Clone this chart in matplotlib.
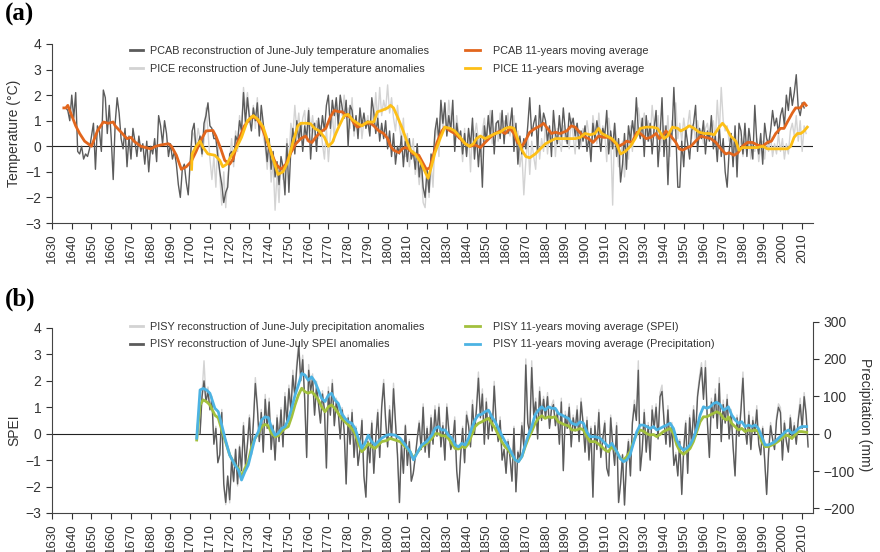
import matplotlib
matplotlib.use('Agg')
import matplotlib.pyplot as plt
import numpy as np
from matplotlib.lines import Line2D

plt.rcParams['font.family'] = ['Liberation Sans', 'DejaVu Sans']

# ---------------- panel (a): temperature ----------------
pcab_start = 1637
pcab = [1.5, 1.4, 1.0,
        2.0, 1.1, 2.1, -0.2, -0.3, 0.0, -0.5, -0.3, -0.4, -0.1,
        0.4, 0.9, -0.9, 0.8, 0.6, -0.2, 2.2, 1.9, 0.5, 1.6,
        0.3, -1.3, 0.9, 1.9, 1.3, 0.3, -0.1, 0.7, -0.8, 0.4,
        -0.5, 0.7, 0.2, -0.4, 0.4, -0.2, 0.1, -0.7, 0.2, -1.0,
        0.0, -0.3, 0.3, -0.6, 1.2, 0.8, 0.1, 1.0, 0.5, -0.4,
        0.1, -0.5, -0.2, -0.7, -1.5, -2.0, -0.9, -0.7, -1.4, -1.9,
        -0.6, 0.6, 0.9, -0.2, 0.1, 0.4, -0.3, 0.9, 1.2, 1.7,
        0.8, 0.7, 0.3, 0.3, -0.4, -1.0, -1.5, -2.2, -1.8, -1.6,
        -0.3, -0.2, -0.6, 0.4, 0.2, 1.0, 0.6, 2.1, 0.9, 1.9,
        1.1, 0.6, 1.5, 1.0, 1.7, 0.4, 1.6, 0.9, 0.2, -0.6,
        0.3, -0.9, -0.2, -1.2, -0.6, -1.5, -0.4, -0.8, -1.9, 0.1,
        -1.8, -0.1, 0.7, -0.3, 1.0, 0.2, 0.9, -0.2, 0.8, 0.3,
        1.4, -0.5, 0.7, 0.9, -0.2, 1.1, 0.4, 1.2, 0.6, 1.6,
        2.0, 0.7, 1.8, 1.2, 1.9, 0.8, 2.0, 1.5, 1.1, 1.8,
        0.0, 1.6, 1.4, 0.6, 1.2, 0.3, 1.5, 0.8, 1.3, 0.7,
        1.0, 0.4, 1.9, 1.3, 0.5, 1.1, 0.2, 0.9, 0.3, 1.0,
        -0.1, 0.6, -0.4, 0.5, -0.7, 0.0, -0.3, 0.4, -0.8, 0.2,
        -0.6, 0.3, -0.5, -0.2, -0.9, 0.1, -1.2, -0.5, -1.6, -2.0,
        -0.9, -1.8, -0.3, -0.6, 0.6, 1.1, 0.2, 1.8, 0.9, 1.7,
        0.4, 1.2, 0.6, 1.8, -0.2, 0.9, 0.3, 0.6, -0.3, 0.5,
        -0.4, 0.7, 0.0, 1.1, -0.5, 0.5, -0.8, 0.3, -1.6, 0.8,
        0.2, 1.2, 0.4, 1.4, -0.3, 0.9, 1.0, 0.3, 1.4, 0.1,
        1.2, 0.5, 0.8, 1.5, -0.2, 0.9, -0.7, 0.4, -0.3, 0.3,
        -0.1, 0.8, 1.9, 0.4, 0.9, 1.2, -0.2, 1.6, 0.6, 1.3,
        1.0, 0.2, 0.8, -0.4, 1.4, 0.5, 0.1, 1.2, 0.3, 1.5,
        0.6, 0.1, 1.3, 0.8, 1.1, 0.4, 0.9, -0.1, 0.6, 0.2,
        0.8, -0.2, 0.4, -0.6, 0.9, 0.3, 1.0, 0.5, -0.2, 0.7,
        0.4, 1.4, -0.3, 0.6, -0.1, 0.9, -0.4, 0.3, -1.4, -0.7,
        0.5, -0.9, 0.8, 0.2, 1.0, 0.4, 1.9, 0.6, 0.3, 1.1,
        -0.4, 1.2, 0.2, 0.9, -0.3, 0.7, 1.4, -0.8, 0.4, 1.9,
        -0.4, 0.8, -1.5, 0.6, 0.3, 2.3, 0.5, -1.6, -1.6, 0.2,
        -0.8, 0.7, 0.1, -0.5, 0.6, 0.9, 1.6, -0.2, 0.7, 0.3,
        1.0, -0.3, 0.6, 0.2, 1.2, -0.1, 0.4, -0.6, 0.8, -0.4,
        0.3, -1.0, -1.6, -0.2, 0.5, -0.8, 0.8, -1.2, 0.9, 0.6,
        -0.3, 0.9, -0.4, 0.7, 0.1, -0.5, 1.6, 0.2, -0.3, 0.5,
        -0.7, 0.9, 0.3, 0.1, 0.6, 1.4, 0.8, 1.1, 0.5, 1.2,
        1.5, 0.8, 2.0, 1.4, 2.3, 1.6, 2.1, 2.8, 1.5, 1.2,
        1.7, 1.5]

pice_start = 1700
pice = [-0.9, 0.6, 0.4, 0.0, 0.7, 0.3, -0.4, 0.2, 1.5, 0.6,
        -0.5, -1.3, -0.4, -1.6, 0.2, -1.2, -2.3, -1.0, -2.4, -1.2,
        -0.5, 0.3, -0.8, 0.6, -0.2, 1.2, 0.5, 2.3, 1.4, 2.1,
        1.3, 0.8, 1.6, 0.7, 1.9, 0.6, 1.2, 0.4, 0.0, -0.9,
        0.1, -1.4, -0.6, -2.5, -1.0, -2.2, -0.5, -1.3, -0.8, 0.3,
        -0.6, 0.9, 0.4, 1.6, 0.6, 1.3, 0.3, 1.1, 1.4, 0.2,
        1.5, 0.6, 1.2, 0.4, 1.0, 0.3, 0.8, 0.1, -0.5, 0.7,
        -0.6, 0.4, 1.3, 0.2, 1.8, 0.9, 1.6, 1.2, 2.0, 1.1,
        1.5, 0.7, 1.9, 0.4, 1.1, 0.6, 1.3, 0.3, 1.0, 0.8,
        1.2, 0.5, 1.4, 0.8, 2.1, 1.0, 2.3, 1.2, 1.8, 1.4,
        2.4, 1.3, 1.9, 1.1, 0.6, 1.6, 0.8, 0.2, 1.1, -0.4,
        0.5, -0.8, -0.2, 0.3, -1.1, -0.6, -1.5, -0.9, -2.2, -2.4,
        -1.1, -2.0, -0.7, -1.6, 0.3, 0.8, -0.4, 1.5, 0.7, 1.3,
        0.6, 1.8, 0.9, 1.1, 0.0, 1.2, 0.5, 0.3, -0.6, 0.7,
        -0.3, 0.5, -1.0, 0.8, 0.4, 0.9, 0.2, -0.4, 0.6, 1.1,
        0.3, 0.8, 1.4, 0.1, 0.6, 0.9, 0.2, 1.3, 0.5, 1.0,
        0.8, 1.3, 0.4, 0.9, 1.2, 0.3, 0.6, -0.8, -0.2, -1.9,
        -0.6, 0.4, -1.1, 0.2, -0.4, -0.9, 0.6, -0.5, 0.3, -0.2,
        0.9, -0.3, 0.6, 0.1, 1.0, -0.4, 0.7, 0.3, -0.2, 0.8,
        0.2, 0.6, -0.1, 1.1, 0.4, -0.3, 0.9, 0.5, 0.0, 0.7,
        0.3, 1.0, 0.4, -0.2, 1.2, 0.6, 0.1, 1.3, 0.2, 0.8,
        0.5, -0.6, 1.1, 0.4, -2.3, 0.9, 0.3, -0.8, -0.4, 0.2,
        -1.2, 0.1, -0.5, 0.8, -0.2, 1.0, 0.4, 1.5, 0.9, 0.6,
        1.3, 0.4, 1.0, 0.2, 1.6, 0.7, 0.3, 1.2, -0.2, 0.5,
        0.8, 0.1, 1.2, -0.4, 1.0, 0.6, 1.7, 0.3, 0.9, 0.2,
        1.1, 0.5, 0.8, 1.4, 0.3, 0.9, 0.2, 1.0, 0.4, 0.6,
        0.1, 0.7, 0.9, 0.3, 0.6, 1.0, 0.2, 1.8, 0.5, 2.3,
        1.0, 0.6, 0.8, 0.2, 0.5, -0.3, 0.4, -0.6, -0.1, 0.3,
        -0.4, 0.2, -0.3, 0.4, -0.5, 0.1, -0.2, 0.3, -0.6, 0.0,
        0.2, -0.5, 0.3, -0.2, 0.4, -0.4, 0.1, -0.3, 0.5, -0.2,
        0.3, -0.5, 0.1, -0.3, 0.6, 0.9, 0.4, 1.2, 0.2, 1.0,
        -0.2, 0.8, 0.5]

pcab_ma_year = [1636, 1637, 1638, 1640, 1642, 1644, 1646.5, 1650, 1653, 1656, 1658.5, 1661, 1662,
                1665, 1668, 1670, 1671.5, 1675, 1680, 1682.5, 1685, 1689, 1690.5, 1693, 1695.5,
                1698, 1700.5, 1703, 1705.5, 1708, 1711.5, 1713, 1715.5, 1717.5, 1720, 1721.7,
                1724, 1727.5, 1731, 1733.5, 1736, 1738.5, 1741, 1743.5, 1746, 1748.5, 1751,
                1753.5, 1756, 1758.5, 1760, 1761.7, 1763.5, 1766, 1768.7, 1771, 1773, 1775.5,
                1777, 1779, 1781, 1783, 1784.7, 1786.4, 1789, 1791.5, 1793, 1795.6, 1798, 1800,
                1801.5, 1803, 1805.7, 1807.4, 1809, 1810.7, 1813, 1815.8, 1817.5, 1819.6, 1821.3,
                1823, 1825, 1827.5, 1829, 1831.7, 1834, 1836.8, 1839.3, 1841.8, 1844.4, 1847,
                1849.4, 1852, 1854.5, 1857, 1859.6, 1862, 1864, 1865.8, 1868, 1869.7, 1872,
                1874.8, 1877.3, 1879, 1881, 1883, 1885, 1887.4, 1890.8, 1893, 1895, 1896.7, 1899,
                1901.8, 1904, 1906.9, 1909.4, 1912, 1914.5, 1917, 1919.5, 1921, 1923.8, 1926.3,
                1928, 1931, 1933.4, 1936, 1937.6, 1939.3, 1941, 1943.5, 1946, 1947.7, 1949.4,
                1952, 1953.6, 1956, 1958.7, 1961, 1963.7, 1966.3, 1968.8, 1971.3, 1973, 1975.5,
                1977.5, 1979.7, 1982.3, 1984.8, 1987.3, 1989.9, 1992.4, 1994.4, 1996.6, 1999,
                2000.8, 2002.5, 2005, 2006.7, 2009, 2011, 2012]
pcab_ma = [1.5, 1.5, 1.6, 1.2, 0.8, 0.5, 0.2, 0.0, 0.6, 0.95, 0.9, 0.95, 0.8,
           0.55, 0.3, 0.35, 0.2, 0.0, -0.1, 0.0, 0.05, 0.1, 0.0, -0.35, -0.9,
           -0.8, -0.6, -0.2, 0.25, 0.6, 0.62, 0.4, -0.1, -0.55, -0.7, -0.5,
           0.15, 0.8, 1.15, 1.1, 0.8, 0.3, -0.25, -0.7, -0.9, -0.7, -0.25,
           0.1, 0.3, 0.4, 0.2, 0.15, 0.35, 0.55, 0.7, 1.15, 1.4, 1.35,
           1.35, 1.2, 1.15, 0.9, 0.75, 0.8, 0.9, 0.9, 0.8, 0.6, 0.5, 0.3,
           0.0, -0.15, -0.25, -0.1, -0.05, -0.1, -0.3, -0.35, -0.6, -0.9, -0.85,
           -0.4, 0.15, 0.6, 0.75, 0.6, 0.5, 0.3, 0.1, 0.0, 0.05, -0.05,
           0.15, 0.35, 0.5, 0.6, 0.5, 0.7, 0.5, 0.15, 0.0, 0.2, 0.55,
           0.7, 0.8, 0.9, 0.7, 0.5, 0.55, 0.5, 0.6, 0.8, 0.75, 0.6, 0.4,
           0.3, 0.15, 0.4, 0.35, 0.35, 0.2, 0.0, 0.1, 0.2, 0.15, 0.55,
           0.5, 0.3, 0.35, 0.5, 0.3, 0.4, 0.6, 0.4, 0.15, -0.1, -0.15,
           -0.05, 0.0, 0.2, 0.4, 0.35, 0.3, 0.15, -0.1, -0.3, -0.25, -0.35,
           -0.25, 0.0, 0.15, 0.15, 0.05, 0.0, 0.15, 0.2, 0.5, 0.7,
           0.7, 0.95, 1.3, 1.5, 1.5, 1.7, 1.6]

pice_ma_year = [1700.7, 1701, 1703, 1705, 1706.6, 1709, 1712.5, 1715, 1716.5, 1718.5, 1721, 1723.5,
                1726, 1729, 1732, 1734.3, 1737, 1739.5, 1742, 1744.5, 1747, 1749.5, 1752, 1754.5,
                1756, 1758.7, 1761, 1763, 1765.4, 1768, 1770, 1772, 1773.8, 1775.5, 1778, 1780,
                1782, 1784.7, 1787, 1789.7, 1793, 1794.8, 1797, 1800, 1801.5, 1803, 1805, 1807.4,
                1810, 1811.6, 1814, 1816.6, 1819, 1820.5, 1822, 1824, 1826.6, 1829, 1831.7, 1834,
                1836.8, 1839.3, 1841.5, 1843.5, 1845, 1847, 1849.4, 1852, 1854.5, 1857, 1859.6,
                1862, 1864, 1866.3, 1868, 1870, 1872, 1874.8, 1877.3, 1880, 1882.4, 1885, 1887.4,
                1890, 1892.5, 1895, 1897.6, 1900, 1902.6, 1905, 1906.9, 1908.5, 1911, 1913.6, 1916,
                1918, 1920.4, 1923, 1925.4, 1928, 1931, 1934, 1936.7, 1938.4, 1940, 1941.8, 1944.3,
                1947, 1948.5, 1951, 1952.8, 1955.3, 1957.8, 1960.4, 1963, 1965.4, 1968, 1969.6,
                1971.3, 1973.8, 1976.4, 1978, 1979.7, 1982.3, 1984.8, 1987.3, 1990, 1992.4, 1995,
                1997.5, 2000, 2002.5, 2004.2, 2005.9, 2007.6, 2009.3, 2011, 2012.6]
pice_ma = [-0.9, -0.3, 0.0, 0.2, -0.05, -0.3, -0.35, -0.55, -0.8, -0.7, -0.35, -0.05,
           0.35, 1.0, 1.2, 1.05, 0.75, 0.15, -0.5, -1.1, -1.0, -0.6, 0.15, 0.8,
           0.9, 0.9, 0.88, 0.7, 0.6, 0.35, 0.0, 0.15, 0.5, 0.8, 1.2, 1.25,
           1.05, 0.9, 0.8, 0.95, 0.95, 1.35, 1.4, 1.5, 1.6, 1.5, 1.15, 0.7,
           0.15, -0.15, -0.3, -0.6, -1.0, -1.25, -0.85, -0.25, 0.3, 0.75, 0.7, 0.6,
           0.35, 0.1, 0.0, 0.1, 0.3, 0.4, 0.3, 0.4, 0.5, 0.55, 0.7,
           0.75, 0.7, 0.2, -0.15, -0.4, -0.45, -0.3, -0.1, 0.1, 0.2, 0.3, 0.3,
           0.3, 0.3, 0.3, 0.35, 0.5, 0.45, 0.5, 0.7, 0.5, 0.4, 0.3, 0.1,
           -0.3, -0.2, 0.0, 0.3, 0.7, 0.75, 0.75, 0.7, 0.5, 0.3, 0.4, 0.75,
           0.7, 0.6, 0.7, 0.8, 0.7, 0.55, 0.5, 0.5, 0.45, 0.75, 0.9,
           0.75, 0.4, 0.2, -0.15, -0.05, -0.05, -0.05, -0.05, 0.0, -0.1, -0.1,
           -0.1, -0.1, -0.1, 0.0, 0.35, 0.5, 0.5, 0.6, 0.75]

# ---------------- panel (b): SPEI / precipitation ----------------
spei_start = 1705
spei = [0.0, 1.4, 2.0, 1.2, 1.6,
        0.9, 1.3, -0.4, 0.2, -1.1, -0.8, 0.8, -1.9, -2.6, -1.6,
        -2.5, -1.0, -1.8, -0.6, -1.9, -0.5, -1.4, 0.3, -1.2, -0.4,
        0.6, -0.8, 0.4, 1.9, 1.0, -0.3, 0.8, -0.7, 1.3, 0.2,
        1.2, -0.6, 0.3, -1.0, 0.6, -0.3, 0.9, -0.5, 1.4, 0.4,
        1.7, 0.9, 2.2, 1.4, 2.5, 3.3, 2.0, 2.8, 1.3, -0.9,
        2.4, 1.6, 2.1, 0.7, 1.8, 1.1, 0.4, 1.5, 0.9, -1.3,
        1.6, 0.7, 1.9, 0.3, 1.2, 0.8, -0.2, 0.9, 0.1, -1.9,
        0.6, -0.4, 0.8, -0.9, 0.2, -1.2, -0.6, 0.5, -1.6, -2.4,
        -0.3, -1.1, 0.4, -1.5, -0.2, 0.8, -0.9, 1.0, 1.9, 0.5,
        -0.5, 0.9, -0.2, 1.7, 0.4, -0.8, -2.6, -0.4, -1.5, 0.3,
        -1.2, -0.3, -1.8, -1.5, -0.9, -0.2, 0.4, -0.6, 1.0, -0.7,
        0.2, -0.9, 0.6, -0.4, 0.9, -0.1, 1.0, -0.5, 0.3, -1.0,
        1.0, 0.1, -0.6, -0.3, 0.5, -1.4, -2.2, -0.8, 0.2, -1.1,
        0.7, 0.3, -0.5, 1.1, 0.0, 0.9, 2.1, 0.6, 1.5, -0.4,
        1.2, -0.2, 0.7, 0.1, 1.8, 0.4, -0.3, 0.5, -1.0, -0.6,
        -1.5, -0.3, -0.9, -1.8, 0.2, -2.2, -0.7, -1.0, 0.3, -0.5,
        2.6, 0.4, 0.0, 2.5, 0.7, 1.2, -0.2, 1.6, 0.5, 1.3,
        0.6, 1.4, 0.2, 0.9, 1.1, 0.3, 0.8, -0.4, 1.2, -1.4,
        0.7, 0.2, 1.0, -0.5, 0.6, 0.1, 0.9, -0.3, 1.2, 0.4,
        -0.7, 0.5, -1.0, 0.2, -2.4, 0.3, -0.6, 0.8, -0.9, -0.2,
        0.4, -1.3, -1.6, 0.6, -0.4, -1.2, 0.3, -2.6, -1.9, -0.8,
        -2.7, -1.1, -0.3, -1.6, 0.4, 1.1, 0.5, 2.4, -1.4, -0.6,
        0.8, -0.7, 0.3, -1.0, 0.9, 0.2, 1.0, -0.2, 1.4, 1.6,
        0.5, -0.4, 0.9, -0.5, 0.3, -1.2, -0.8, -1.6, -0.3, -2.3,
        -0.6, 0.4, -1.5, 0.6, -0.4, 0.9, -0.1, 1.4, 2.0, 2.5,
        1.3, 2.5, 0.4, -0.9, 1.2, 0.6, 1.5, 0.2, 1.9, -0.3,
        1.1, 0.4, 1.3, -0.2, 0.8, -0.5, -1.6, 0.6, -0.1, 0.9,
        2.1, 0.3, -0.4, 0.7, -0.6, 0.5, 0.0, 0.9, -0.4, -0.8,
        0.2, -1.0, -2.3, -0.7, 0.3, -0.2, -0.6, 0.5, 1.0, 0.8,
        -1.0, 0.4, -0.3, -0.7, 0.6, -0.2, 0.3, -0.4, 0.5, 1.1,
        0.2, 1.4, 0.7, -0.5]

precip_start = 1705
precip = [5, 110, 195, 95, 125,
          75, 100, -25, 20, -75, -55, 65, -140, -190, -115,
          -185, -70, -130, -40, -140, -30, -100, 30, -85, -25,
          50, -55, 35, 150, 80, -20, 65, -45, 105, 20,
          95, -40, 25, -70, 50, -20, 70, -30, 110, 35,
          130, 70, 170, 110, 195, 245, 155, 210, 100, -60,
          185, 125, 160, 55, 140, 85, 35, 115, 70, -90,
          125, 55, 145, 25, 95, 65, -10, 70, 10, -135,
          50, -25, 65, -60, 20, -85, -40, 40, -115, -170,
          -15, -75, 35, -105, -10, 65, -60, 80, 145, 40,
          -30, 75, -10, 135, 35, -55, -185, -25, -105, 25,
          -85, -15, -125, -105, -60, -10, 35, -40, 80, -45,
          20, -60, 50, -25, 75, 0, 80, -30, 30, -70,
          80, 15, -40, -15, 45, -95, -155, -55, 20, -75,
          60, 30, -30, 90, 5, 75, 165, 50, 120, -25,
          95, -10, 60, 15, 140, 35, -15, 45, -70, -40,
          -105, -15, -60, -125, 20, -155, -45, -70, 30, -30,
          200, 35, 5, 195, 60, 95, -10, 125, 45, 100,
          50, 110, 20, 75, 90, 30, 65, -25, 95, -95,
          60, 20, 80, -30, 50, 15, 75, -15, 95, 35,
          -45, 45, -65, 20, -170, 30, -40, 65, -60, -10,
          35, -90, -110, 50, -25, -80, 30, -185, -135, -55,
          -190, -75, -15, -110, 35, 90, 45, 195, -95, -35,
          65, -45, 30, -65, 75, 20, 80, -10, 110, 130,
          45, -25, 75, -30, 30, -80, -50, -110, -15, -160,
          -35, 35, -100, 50, -25, 75, 0, 110, 155, 190,
          105, 195, 35, -60, 95, 50, 120, 20, 150, -15,
          90, 35, 105, -10, 65, -30, -110, 50, 0, 75,
          165, 30, -25, 60, -40, 45, 5, 75, -25, -50,
          20, -65, -160, -45, 30, -10, -35, 45, 80, 70,
          -65, 35, -15, -45, 50, -10, 30, -25, 45, 95,
          20, 110, 60, -30]

spei_ma_year = [1703.3, 1705, 1706.6, 1708.3, 1710, 1712.5, 1714.2, 1716, 1717.6, 1720, 1722.7,
                1724.4, 1726, 1727.7, 1729.4, 1731.1, 1732.8, 1734.5, 1736.2, 1737.9, 1739.6,
                1741.3, 1743, 1744.6, 1746.3, 1748, 1749.7, 1751.4, 1753.1, 1754.8, 1756.5,
                1758.1, 1759.8, 1761.5, 1763.2, 1764.9, 1766.6, 1768.3, 1770, 1771.6, 1773.3,
                1775, 1776.7, 1778.4, 1780.1, 1781.8, 1783.5, 1785.2, 1786.9, 1788.5, 1790.2,
                1791.9, 1793.6, 1795.3, 1797, 1799.5, 1801.3, 1803.8, 1806.3, 1808.9, 1811.4,
                1813.1, 1814.8, 1817.3, 1819.8, 1822.4, 1824.1, 1825.7, 1827.4, 1829.1, 1830.8,
                1832.5, 1834.2, 1835.9, 1837.6, 1839.3, 1841, 1842.6, 1844.3, 1846, 1847.7,
                1849.4, 1851.1, 1852.8, 1854.5, 1856.1, 1857.8, 1859.5, 1861.2, 1862.9, 1864.6,
                1866.3, 1868, 1869.7, 1871.3, 1873, 1874.7, 1876.4, 1878.1, 1879.8, 1881.5,
                1883.2, 1884.9, 1886.5, 1888.2, 1889.9, 1891.6, 1893.3, 1895.8, 1897.5, 1899.2,
                1900.9, 1902.6, 1905.1, 1907.6, 1910.2, 1911.9, 1913.6, 1916.1, 1917.8, 1919.5,
                1921.1, 1922.8, 1924.5, 1926.2, 1927.9, 1929.6, 1931.3, 1933, 1934.7, 1936.3,
                1938, 1939.7, 1941.4, 1943.1, 1944.8, 1946.5, 1948.2, 1949.9, 1951.5, 1953.2,
                1954.9, 1956.6, 1958.3, 1960, 1961.7, 1963.4, 1965.1, 1966.7, 1968.4, 1970.1,
                1971.8, 1972.6, 1974.3, 1976, 1977.7, 1979.4, 1981.1, 1982.8, 1984.5, 1986.2,
                1987.8, 1989.5, 1991.2, 1992.9, 1994.6, 1996.3, 1998, 1999.7, 2001.4, 2003.1,
                2004.7, 2006.4, 2008.1, 2009.8, 2012.3]
spei_ma = [-0.24, 1.09, 1.28, 1.21, 1.09, 0.7, 0.6, 0.14, -0.24, -0.8, -1.19,
           -1.31, -1.63, -1.31, -1.06, -0.5, -0.18, 0.01, 0.27, 0.35, 0.3,
           0.0, -0.11, -0.08, 0.08, 0.2, 0.27, 0.64, 1.09, 1.46, 1.72,
           1.59, 1.53, 1.59, 1.46, 1.28, 1.02, 0.83, 1.02, 1.09, 0.96,
           0.77, 0.58, 0.45, 0.33, 0.2, 0.01, -0.37, -0.68, -0.56, -0.37,
           -0.49, -0.56, -0.43, -0.3, -0.26, -0.18, -0.24, -0.3, -0.49, -0.68,
           -0.93, -0.74, -0.49, -0.37, -0.18, 0.0, 0.0, -0.08, -0.08, -0.18,
           -0.37, -0.56, -0.58, -0.49, -0.53, -0.37, -0.05, 0.27, 0.39, 0.45,
           0.52, 0.58, 0.39, 0.2, -0.05, -0.3, -0.49, -0.62, -0.81, -1.0,
           -1.04, -0.87, -0.49, -0.18, 0.08, 0.39, 0.58, 0.68, 0.58, 0.64,
           0.61, 0.64, 0.45, 0.39, 0.33, 0.3, 0.14, 0.14, 0.2, 0.14,
           -0.11, -0.3, -0.3, -0.43, -0.62, -0.68, -0.49, -0.68, -0.93, -1.0,
           -0.87, -0.68, -0.3, 0.0, 0.14, 0.1, 0.0, -0.05, -0.03, -0.11,
           -0.03, 0.08, 0.14, 0.2, 0.0, -0.43, -0.68, -0.78, -0.68, -0.56,
           -0.3, 0.08, 0.45, 0.64, 0.64, 0.71, 0.77, 0.83, 0.77, 0.58,
           0.52, 0.64, 0.39, 0.27, 0.14, 0.2, 0.08, 0.14, 0.1, 0.14,
           0.08, -0.3, -0.49, -0.49, -0.43, -0.37, -0.28, -0.18, -0.05, -0.08,
           -0.18, -0.05, 0.08, 0.08, 0.05]

precip_ma_year = spei_ma_year
precip_ma = [-12, 117, 121, 117, 108, 68, 59, 23, -12, -57, -84,
             -97, -124, -102, -84, -48, -12, 5, 37, 45, 43,
             14, -4, 1, 14, 19, 37, 68, 103, 130, 161,
             157, 143, 152, 139, 117, 94, 86, 103, 108, 90,
             81, 54, 41, 32, 28, 14, -12, -39, -26, -4,
             -21, -30, -21, -12, -4, -2, -4, -12, -30, -48,
             -70, -53, -30, -21, -4, 14, 19, 10, 10, -4,
             -12, -30, -35, -26, -30, -12, 14, 37, 50, 52,
             59, 63, 45, 32, 14, -4, -21, -35, -53, -70,
             -75, -61, -30, -4, 19, 50, 63, 72, 63, 72,
             68, 68, 54, 50, 45, 41, 28, 23, 32, 28,
             5, -8, -8, -12, -26, -35, -26, -48, -66, -75,
             -70, -57, -26, 5, 23, 23, 19, 14, 19, 10,
             14, 19, 23, 28, 14, -17, -35, -44, -39, -30,
             -12, 14, 50, 72, 68, 72, 81, 84, 78, 63,
             68, 72, 50, 37, 28, 32, 19, 23, 19, 23,
             14, -8, -30, -30, -26, -21, -12, -4, 5, 10,
             1, 5, 14, 19, 19]

decades = list(range(1630, 2011, 10))

dark = '#5b5b5b'
light = '#d3d3d3'
orange = '#e2661d'
yellow = '#fdbf16'
green = '#a2c03d'
blue = '#4cb3e3'

fig = plt.figure(figsize=(8.8, 5.52), dpi=100)


def style_axis(ax):
    ax.set_xlim(1630, 2015.5)
    ax.set_xticks(decades)
    ax.set_xticklabels([str(d) for d in decades], rotation=90, fontsize=9.5, color='#333333')
    ax.tick_params(axis='both', direction='out', length=4, width=0.8, colors='#333333')
    ax.tick_params(axis='y', labelsize=10)
    ax.spines['top'].set_visible(False)
    ax.spines['right'].set_visible(False)
    for s in ['left', 'bottom']:
        ax.spines[s].set_color('#444444')
        ax.spines[s].set_linewidth(0.8)
    ax.axhline(0, color='#222222', lw=0.8, zorder=1)


# legend styling: left and right columns have different handle gaps in the original
leg_l = dict(frameon=False, fontsize=7.8, handlelength=1.2, handletextpad=0.65,
             labelspacing=0.7, borderpad=0, borderaxespad=0, loc='upper left')
leg_r = dict(leg_l, handlelength=1.4, handletextpad=1.2)

# ---- (a) ----
ax1 = fig.add_axes([0.0591, 0.596, 0.8648, 0.3243])
style_axis(ax1)
ax1.set_ylim(-3, 4)
ax1.set_yticks(range(-3, 5))

yr_pice = np.arange(pice_start, pice_start + len(pice))
yr_pcab = np.arange(pcab_start, pcab_start + len(pcab))
ax1.plot(yr_pice, pice, color=light, lw=1.0, zorder=2)
ax1.plot(yr_pcab, pcab, color=dark, lw=1.0, zorder=3)
ax1.plot(pcab_ma_year, pcab_ma, color=orange, lw=2.0, zorder=4)
ax1.plot(pice_ma_year, pice_ma, color=yellow, lw=2.0, zorder=5)

fig.text(0.005, 0.974, '(a)', fontsize=18, fontweight='bold', family='Liberation Serif', va='center')
fig.text(0.016, 1 - 133 / 552, 'Temperature (\u00b0C)', rotation=90, fontsize=10,
         ha='center', va='center', color='#333333')

h_a1 = [Line2D([], [], color=dark, lw=2), Line2D([], [], color=light, lw=2)]
l_a1 = ['PCAB reconstruction of June-July temperature anomalies',
        'PICE reconstruction of June-July temperature anomalies']
h_a2 = [Line2D([], [], color=orange, lw=2), Line2D([], [], color=yellow, lw=2)]
l_a2 = ['PCAB 11-years moving average', 'PICE 11-years moving average']
lg1 = fig.legend(h_a1, l_a1, bbox_to_anchor=(0.1477, 0.9165), **leg_l)
lg2 = fig.legend(h_a2, l_a2, bbox_to_anchor=(0.528, 0.9165), **leg_r)

# ---- (b) ----
ax2 = fig.add_axes([0.0591, 0.0707, 0.8648, 0.3471])
style_axis(ax2)
ax2.set_ylim(-3, 4.25)
ax2.set_yticks(range(-3, 5))
ax2.spines['left'].set_bounds(-3, 4)

ax3 = ax2.twinx()
ax3.set_ylim(-212.1, 300.5)
ax3.set_yticks([-200, -100, 0, 100, 200, 300])
ax3.tick_params(axis='y', direction='out', length=4, width=0.8, colors='#333333', labelsize=10)
for s in ['top', 'left', 'bottom']:
    ax3.spines[s].set_visible(False)
ax3.spines['right'].set_color('#444444')
ax3.spines['right'].set_linewidth(0.8)
ax3.spines['right'].set_bounds(-212.1, 300)

yr_spei = np.arange(spei_start, spei_start + len(spei))
yr_prec = np.arange(precip_start, precip_start + len(precip))
# all series drawn in ax2 so the draw order matches; precipitation uses the right-axis scale
ax2.plot(yr_prec, precip, color=light, lw=1.0, zorder=2, transform=ax3.transData)
ax2.plot(yr_spei, spei, color=dark, lw=1.0, zorder=3)
ax2.plot(spei_ma_year, spei_ma, color=green, lw=2.0, zorder=4)
ax2.plot(precip_ma_year, precip_ma, color=blue, lw=2.0, zorder=5, transform=ax3.transData)

fig.text(0.005, 0.457, '(b)', fontsize=18, fontweight='bold', family='Liberation Serif', va='center')
fig.text(0.016, 1 - 430 / 552, 'SPEI', rotation=90, fontsize=10, ha='center', va='center',
         color='#333333')
fig.text(0.983, 1 - 415 / 552, 'Precipitation (mm)', rotation=-90, fontsize=10,
         ha='center', va='center', color='#333333')

h_b1 = [Line2D([], [], color=light, lw=2), Line2D([], [], color=dark, lw=2)]
l_b1 = ['PISY reconstruction of June-July precipitation anomalies',
        'PISY reconstruction of June-July SPEI anomalies']
h_b2 = [Line2D([], [], color=green, lw=2), Line2D([], [], color=blue, lw=2)]
l_b2 = ['PISY 11-years moving average (SPEI)', 'PISY 11-years moving average (Precipitation)']
lg3 = fig.legend(h_b1, l_b1, bbox_to_anchor=(0.1477, 0.417), **leg_l)
lg4 = fig.legend(h_b2, l_b2, bbox_to_anchor=(0.528, 0.417), **leg_r)

for lg in (lg1, lg2, lg3, lg4):
    for t in lg.get_texts():
        t.set_color('#333333')

fig.savefig('out.png', dpi=100)
